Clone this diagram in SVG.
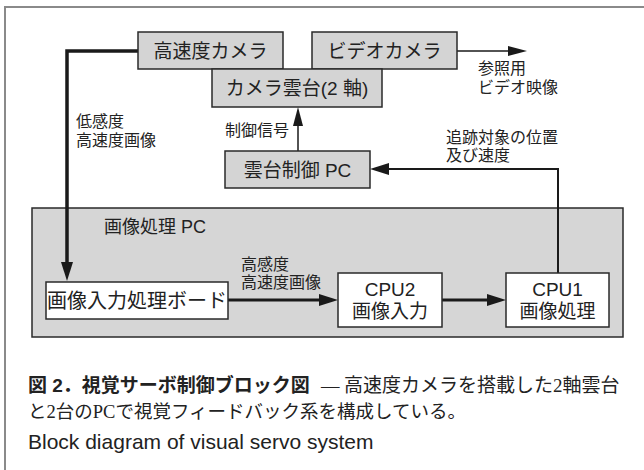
<svg xmlns="http://www.w3.org/2000/svg" width="644" height="470" viewBox="0 0 644 470">
<style>
.frame{fill:none;stroke:#8a8a8a;stroke-width:2}
.gbox{fill:#d4d4d4;stroke:#2a2a2a;stroke-width:1.5}
.wbox{fill:#ffffff;stroke:#2a2a2a;stroke-width:1.5}
.big{fill:#d6d6d6;stroke:#2a2a2a;stroke-width:1.5}
text{font-family:"Liberation Sans","Noto Sans CJK JP",sans-serif;fill:#222}
.bt{font-size:19px;text-anchor:middle}
.lb{font-size:16px}
.capb{font-weight:bold;font-size:19px}
.capm{font-family:"Liberation Serif","Noto Sans CJK JP",serif;font-size:18.5px}
.c1{fill:none;stroke:#1a1a1a;stroke-width:1.5}
.c2{fill:none;stroke:#1a1a1a;stroke-width:2}
.c3{fill:none;stroke:#1a1a1a;stroke-width:3}
.c4{fill:none;stroke:#1a1a1a;stroke-width:3.5}
</style>
<defs>
<marker id="ah" markerUnits="userSpaceOnUse" markerWidth="20" markerHeight="14" refX="0" refY="6" orient="auto" overflow="visible">
<path d="M0,0 L19,6 L0,12 z" fill="#1a1a1a"/>
</marker>
<marker id="ahs" markerUnits="userSpaceOnUse" markerWidth="20" markerHeight="12" refX="0" refY="5" orient="auto" overflow="visible">
<path d="M0,0 L19,5 L0,10 z" fill="#1a1a1a"/>
</marker>
</defs>
<path class="frame" d="M5,470 V7 H644"/>

<g id="imgpc">
<rect class="big" x="32" y="208" width="591" height="129"/>
<text x="104" y="233" style="font-size:18px">画像処理 PC</text>
</g>

<g id="connectors">
<path class="c4" d="M138,51 H67 V262" marker-end="url(#ah)"/>
<path class="c1" d="M457,51 H508" marker-end="url(#ahs)"/>
<path class="c1" d="M298,151 V126" marker-end="url(#ahs)"/>
<path class="c2" d="M558,273 V169 H389" marker-end="url(#ah)"/>
<path class="c3" d="M228,300 H319" marker-end="url(#ah)"/>
<path class="c3" d="M442,300 H487" marker-end="url(#ah)"/>
</g>

<g id="hscam">
<rect class="gbox" x="138" y="32" width="145" height="37"/>
<text class="bt" x="210.5" y="58">高速度カメラ</text>
</g>
<g id="vcam">
<rect class="gbox" x="312" y="32" width="145" height="37"/>
<text class="bt" x="384.5" y="58">ビデオカメラ</text>
</g>
<g id="gimbal">
<rect class="gbox" x="212" y="69" width="170" height="38"/>
<text class="bt" x="297" y="95">カメラ雲台(2 軸)</text>
</g>
<g id="gimbalpc">
<rect class="gbox" x="225" y="151" width="145" height="37"/>
<text class="bt" x="297.5" y="176.5">雲台制御 PC</text>
</g>
<g id="board">
<rect class="wbox" x="46" y="282" width="182" height="37"/>
<text class="bt" x="137" y="307.5" style="font-size:20px">画像入力処理ボード</text>
</g>
<g id="cpu2">
<rect class="wbox" x="338" y="273" width="104" height="54"/>
<text class="bt" x="390" y="296">CPU2</text>
<text class="bt" x="390" y="318">画像入力</text>
</g>
<g id="cpu1">
<rect class="wbox" x="506" y="273" width="103" height="54"/>
<text class="bt" x="557.5" y="296">CPU1</text>
<text class="bt" x="557.5" y="318">画像処理</text>
</g>

<g id="labels">
<text class="lb" x="478" y="74">参照用</text>
<text class="lb" x="478" y="93">ビデオ映像</text>
<text class="lb" x="76" y="127">低感度</text>
<text class="lb" x="76" y="146">高速度画像</text>
<text class="lb" x="225" y="136">制御信号</text>
<text class="lb" x="446" y="143">追跡対象の位置</text>
<text class="lb" x="446" y="161">及び速度</text>
<text class="lb" x="241" y="270">高感度</text>
<text class="lb" x="241" y="288">高速度画像</text>
</g>

<g id="caption">
<text class="capb" x="28" y="392">図 2．視覚サーボ制御ブロック図</text>
<text class="capm" x="321" y="392">—</text>
<text class="capm" x="344" y="392" style="font-size:19px">高速度カメラを搭載した2軸雲台</text>
<text class="capm" x="28" y="418">と2台のPCで視覚フィードバック系を構成している。</text>
<text x="28" y="449" style="font-size:21px">Block diagram of visual servo system</text>
</g>
</svg>
